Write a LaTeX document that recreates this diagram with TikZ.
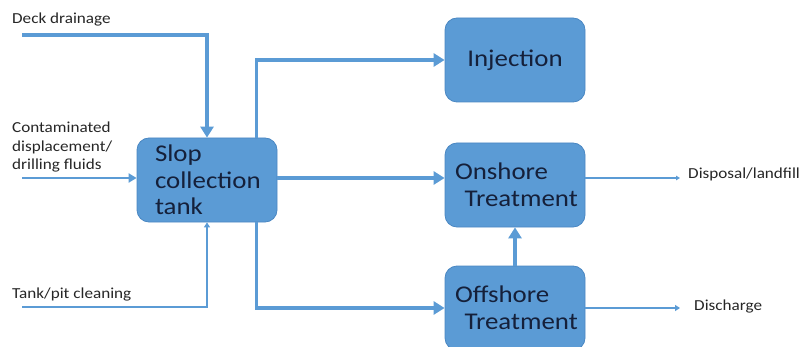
\documentclass[tikz,border=0pt]{standalone}
\usepackage{fontspec}
\setmainfont{Carlito}[FakeStretch=1.12]
\usetikzlibrary{arrows.meta}
\definecolor{boxblue}{HTML}{5B9BD5}
\definecolor{boxline}{HTML}{4A87C2}
\definecolor{flowblue}{HTML}{5B9BD5}
\definecolor{boxtext}{HTML}{15203A}

\begin{document}
\begin{tikzpicture}
		[x=1pt,y=-1pt,
		box/.style={draw=boxline,fill=boxblue,line width=0.8pt,rounded corners=12pt,minimum width=140pt,minimum height=84pt,text=boxtext,font=\fontsize{24}{26.5}\selectfont},
		lbl/.style={inner sep=0pt,text=black!85,font=\fontsize{15.3}{18.3}\selectfont,align=left},
		flow/.style={draw=flowblue,line width=3.8pt,-{Triangle[length=11pt,width=13pt]}},
		midflow/.style={draw=flowblue,line width=2.4pt,-{Triangle[length=8pt,width=9pt]}},
		thinflow/.style={draw=flowblue,line width=1.4pt,-{Triangle[length=5pt,width=6pt]}},
		hairflow/.style={draw=flowblue,line width=1.1pt,-{Triangle[length=4pt,width=4.5pt]}}]
		\useasboundingbox (0,0) rectangle (799,347);

		% boxes
		\node[box,align=left,text width=104pt,inner xsep=18pt] (slop) at (207,180) {Slop\\collection\\tank};
		\node[box,align=center] (inj) at (515,60) {Injection};
		\node[box,align=left,text width=120pt,inner xsep=10pt] (on) at (515,185) {Onshore\\\mbox{\hspace*{0.4em}Treatment}};
		\node[box,align=left,text width=120pt,inner xsep=10pt] (off) at (515,308) {Offshore\\\mbox{\hspace*{0.4em}Treatment}};

		% labels
		\node[lbl,anchor=base west] (deck) at (12,24) {Deck drainage};
		\node[lbl,anchor=north west] (cont) at (12,122) {Contaminated\\displacement/\\drilling fluids};
		\node[lbl,anchor=base west] (pit) at (12,298) {Tank/pit cleaning};
		\node[lbl,anchor=base west] (disp) at (688,179) {Disposal/landfill};
		\node[lbl,anchor=base west] (dis) at (694,310) {Discharge};

		\coordinate (deckin) at (22,35);
		\coordinate (contin) at (22,178);
		\coordinate (pitin) at (22,307);
		\coordinate (dispout) at (680,178);
		\coordinate (disout) at (680,308);

		% inputs
		\draw[flow] (deckin) -| (slop.north);
		\draw[midflow] (contin) -- (contin -| slop.west);
		\draw[thinflow] (pitin) -| (slop.south);

		% outputs
		\draw[flow] ([xshift=-21pt]slop.north east) |- (inj.west);
		\draw[flow] (slop.east |- contin) -- (contin -| on.west);
		\draw[flow] ([xshift=-21pt]slop.south east) |- (off.west);
		\draw[flow] (off.north) -- (on.south);
		\draw[hairflow] (on.east |- dispout) -- (dispout);
		\draw[thinflow] (off.east) -- (disout);
\end{tikzpicture}
\end{document}
